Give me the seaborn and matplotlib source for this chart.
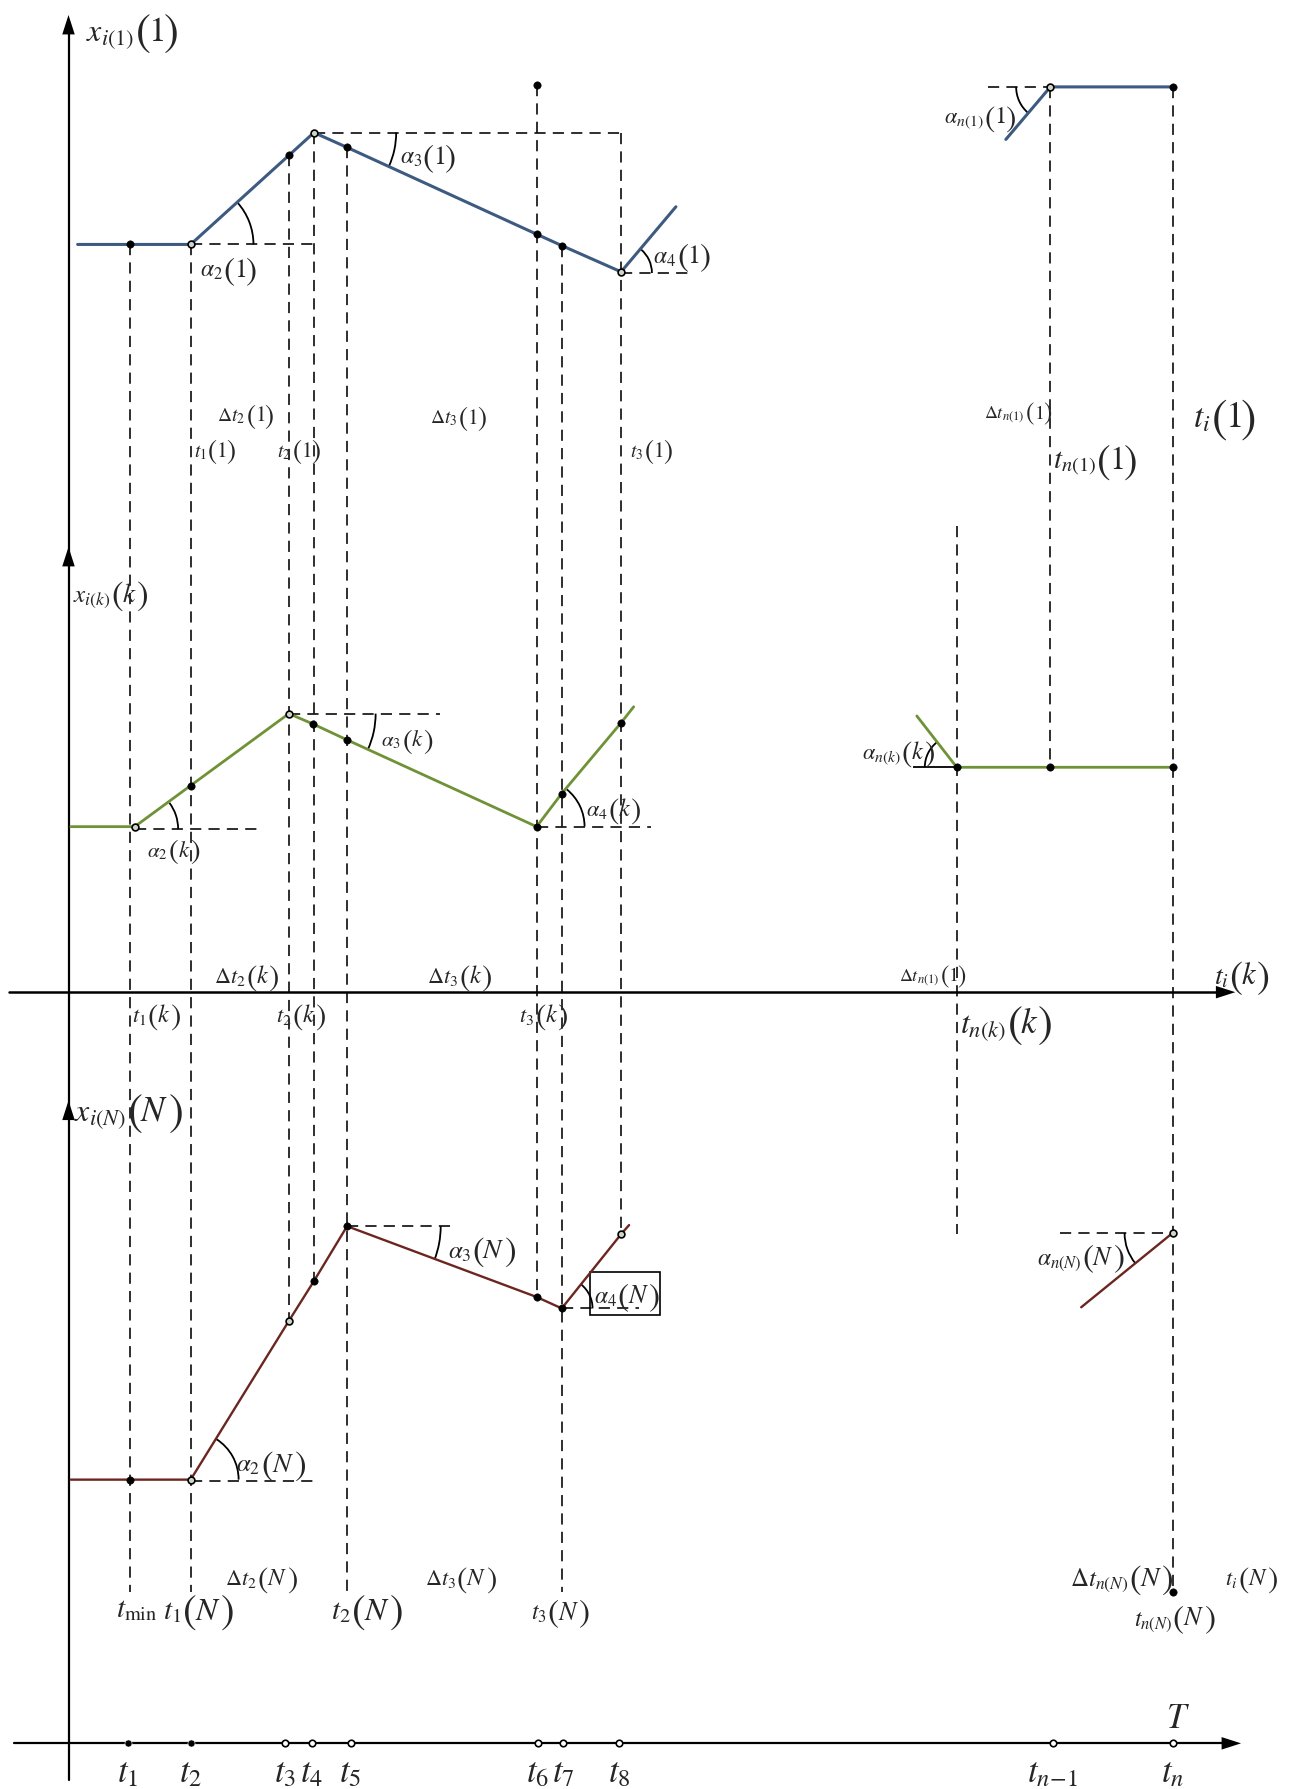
import numpy as np
import pandas as pd
import matplotlib
matplotlib.use("Agg")
import matplotlib.pyplot as plt
from matplotlib.patches import Arc, Rectangle
import seaborn as sns

sns.set_style("white")
plt.rcParams["mathtext.fontset"] = "stix"
plt.rcParams["font.family"] = ["STIXGeneral", "DejaVu Sans"]

# ---- layout of the diagram (drawing units, y grows downward) ----
W, H = 1129, 1568

# trajectory x_i(1) (blue)
x1_t = [68, 114, 167, 253, 275, 304, 470, 492, 544, 592]
x1_v = [215, 215, 215, 137, 117, 130, 206, 216, 239, 182]
x1_tail_t = [881, 920, 1027]
x1_tail_v = [123, 77, 77]
x1_dots = [(114, 215), (253, 137), (304, 130), (470, 206), (492, 216), (1027, 77), (470, 75)]
x1_open = [(167, 215), (275, 117), (544, 239), (920, 77)]

# trajectory x_i(k) (green)
xk_t = [62, 118, 167, 253, 274, 304, 470, 492, 544, 555]
xk_v = [725, 725, 689, 626, 635, 649, 725, 696, 634, 620]
xk_tail_t = [803, 838, 920, 1027]
xk_tail_v = [628, 673, 673, 673]
xk_dots = [(167, 689), (274, 635), (304, 649), (470, 725), (492, 696), (544, 634),
           (838, 673), (920, 673), (1027, 673)]
xk_open = [(118, 725), (253, 626)]

# trajectory x_i(N) (brown)
xN_t = [62, 114, 167, 253, 275, 304, 470, 492, 544, 551]
xN_v = [1297, 1297, 1297, 1158, 1123, 1075, 1137, 1147, 1082, 1074]
xN_tail_t = [947, 1027]
xN_tail_v = [1146, 1081]
xN_dots = [(114, 1297), (275, 1123), (304, 1075), (470, 1137), (492, 1147), (1027, 1395)]
xN_open = [(167, 1297), (253, 1158), (544, 1082), (1027, 1081)]

# global time axis T
T_ticks = [112, 167, 250, 273, 307, 471, 493, 542, 922, 1027]
T_filled = [True, True, False, False, False, False, False, False, False, False]
T_labels = [r"$t_1$", r"$t_2$", r"$t_3$", r"$t_4$", r"$t_5$", r"$t_6$", r"$t_7$",
            r"$t_8$", r"$t_{n\!-\!1}$", r"$t_n$"]

# vertical projection lines: (x, top, bottom)
v_guides = [(114, 215, 1395), (167, 215, 1395), (253, 137, 1158), (275, 117, 1123),
            (304, 130, 1398), (470, 75, 1137), (492, 216, 1395), (544, 117, 1082),
            (838, 462, 1082), (920, 77, 673), (1027, 77, 1395)]
# horizontal reference lines: (y, left, right)
h_guides = [(215, 167, 275), (117, 275, 544), (240, 544, 603), (77, 865, 920),
            (727, 118, 226), (626, 253, 385), (725, 470, 570),
            (1298, 167, 277), (1075, 304, 398), (1147, 492, 560), (1081, 928, 1027)]

# angle arcs: (center, radius, theta1, theta2)
arcs = [((167, 215), 55, -42, 0), ((275, 117), 72, 0, 24.4), ((544, 240), 27, -50, 0),
        ((920, 77), 30, 130, 180),
        ((118, 727), 38, -37, 0), ((253, 626), 76, 0, 24.5), ((470, 725), 42, -51, 0),
        ((838, 673), 28, -180, -128),
        ((167, 1297), 42, -58, 0), ((304, 1075), 82, 0, 21), ((492, 1147), 27, -51, 0),
        ((1027, 1081), 42, 141, 180)]

# text labels: (symbol, argument, left x, centre y, size)
labels = [
    (r"$x_{i(1)}$", "1", 75, 24, 23),
    (r"$\alpha_2$", "1", 175, 234, 17),
    (r"$\alpha_3$", "1", 350, 135, 17),
    (r"$\alpha_4$", "1", 572, 222, 17),
    (r"$\alpha_{n(1)}$", "1", 827, 100, 16),
    (r"$\Delta t_2$", "1", 190, 362, 14),
    (r"$\Delta t_3$", "1", 377, 364, 14),
    (r"$t_1$", "1", 170, 393, 14),
    (r"$t_2$", "1", 243, 393, 14),
    (r"$t_3$", "1", 552, 393, 14),
    (r"$\Delta t_{n(1)}$", "1", 862, 360, 13),
    (r"$t_{n(1)}$", "1", 922, 400, 21),
    (r"$t_i$", "1", 1045, 362, 24),
    (r"$x_{i(k)}$", "k", 64, 518, 18),
    (r"$\alpha_2$", "k", 129, 743, 15),
    (r"$\alpha_3$", "k", 334, 646, 15),
    (r"$\alpha_4$", "k", 513, 707, 16),
    (r"$\alpha_{n(k)}$", "k", 755, 657, 16),
    (r"$\Delta t_2$", "k", 187, 853, 16),
    (r"$\Delta t_3$", "k", 374, 853, 16),
    (r"$t_1$", "k", 116, 887, 16),
    (r"$t_2$", "k", 242, 887, 16),
    (r"$t_3$", "k", 455, 887, 16),
    (r"$\Delta t_{n(1)}$", "1", 787, 853, 13),
    (r"$t_{n(k)}$", "k", 841, 893, 23),
    (r"$t_i$", "k", 1063, 852, 20),
    (r"$x_{i(N)}$", "N", 65, 970, 23),
    (r"$\alpha_2$", "N", 207, 1280, 18),
    (r"$\alpha_3$", "N", 392, 1093, 18),
    (r"$\alpha_4$", "N", 520, 1133, 17),
    (r"$\alpha_{n(N)}$", "N", 908, 1099, 17),
    (r"$\Delta t_2$", "N", 197, 1380, 16),
    (r"$\Delta t_3$", "N", 372, 1380, 16),
    (r"$t_{\rm min}$", None, 102, 1407, 21),
    (r"$t_1$", "N", 143, 1408, 21),
    (r"$t_2$", "N", 290, 1408, 21),
    (r"$t_3$", "N", 465, 1410, 17),
    (r"$\Delta t_{n(N)}$", "N", 937, 1380, 18),
    (r"$t_{n(N)}$", "N", 993, 1415, 17),
    (r"$t_i$", "N", 1073, 1380, 16),
    (r"$T$", None, 1021, 1502, 25),
]

BLUE = "#3d5a80"
GREEN = "#6f9236"
BROWN = "#6b2620"

fig = plt.figure(figsize=(12.89, 17.90), dpi=100)
ax = fig.add_axes([0, 0, 1, 1])
ax.set_xlim(0, W)
ax.set_ylim(H, 0)
ax.set_axis_off()

dash = (0, (7, 4.5))

# projection and reference lines
for x, y0, y1 in v_guides:
    ax.vlines(x, y0, y1, colors="black", linestyles=dash, lw=1.15, zorder=1)
for y, x0, x1 in h_guides:
    ax.hlines(y, x0, x1, colors="black", linestyles=dash, lw=1.15, zorder=1)

# short solid reference under alpha_n(k)
ax.hlines(673, 800, 838, colors="black", lw=1.3, zorder=1)

# axes with arrow heads
ax.plot([60, 60], [1560, 20], color="black", lw=1.6, zorder=2)
ax.plot([8, 1075], [870, 870], color="black", lw=1.8, zorder=2)
ax.plot([12, 1080], [1528, 1528], color="black", lw=1.6, zorder=2)
arrow = dict(arrowstyle="-|>,head_length=1.4,head_width=0.45", color="black", lw=0,
             shrinkA=0, shrinkB=0)
for tip in (14, 480, 965):
    ax.annotate("", xy=(60, tip), xytext=(60, tip + 30), arrowprops=arrow, zorder=3)
ax.annotate("", xy=(1082, 870), xytext=(1052, 870), arrowprops=arrow, zorder=3)
ax.annotate("", xy=(1087, 1528), xytext=(1057, 1528), arrowprops=arrow, zorder=3)


def trajectory(ts, vs, color, lw):
    df = pd.DataFrame({"t": ts, "v": vs})
    sns.lineplot(data=df, x="t", y="v", sort=False, estimator=None, color=color,
                 lw=lw, ax=ax, zorder=4, legend=False)


trajectory(x1_t, x1_v, BLUE, 2.2)
trajectory(x1_tail_t, x1_tail_v, BLUE, 2.2)
trajectory(xk_t, xk_v, GREEN, 2.0)
trajectory(xk_tail_t, xk_tail_v, GREEN, 2.0)
trajectory(xN_t, xN_v, BROWN, 1.7)
trajectory(xN_tail_t, xN_tail_v, BROWN, 1.7)

filled = x1_dots + xk_dots + xN_dots
hollow = x1_open + xk_open + xN_open
sns.scatterplot(x=[p[0] for p in filled], y=[p[1] for p in filled], s=28, color="black",
                edgecolor="black", ax=ax, zorder=5, legend=False)
sns.scatterplot(x=[p[0] for p in hollow], y=[p[1] for p in hollow], s=24, color="#cfd6c8",
                edgecolor="black", linewidth=1.2, ax=ax, zorder=5, legend=False)

# ticks of the global axis
fx = [x for x, f in zip(T_ticks, T_filled) if f]
ox = [x for x, f in zip(T_ticks, T_filled) if not f]
sns.scatterplot(x=fx, y=[1528] * len(fx), s=26, color="black", ax=ax, zorder=5, legend=False)
sns.scatterplot(x=ox, y=[1528] * len(ox), s=22, color="white", edgecolor="black",
                linewidth=1.2, ax=ax, zorder=5, legend=False)
for x, lab in zip(T_ticks, T_labels):
    ax.text(x, 1540, lab, ha="center", va="top", fontsize=25, zorder=6)

# angle marks
for (cx, cy), r, a0, a1 in arcs:
    ax.add_patch(Arc((cx, cy), 2 * r, 2 * r, theta1=a0, theta2=a1, color="black",
                     lw=1.3, zorder=3))

# boxed label
ax.add_patch(Rectangle((517, 1115), 61, 38, fill=False, edgecolor="black", lw=1.2, zorder=3))

# labels: symbol followed by a tall bracketed argument
renderer = fig.canvas.get_renderer()
to_data = ax.transData.inverted()
PT = 100 / 72 * W / 1289.0  # drawing units per point


def chain(x, y, pieces):
    cur = x
    for s, fs, dy, gap in pieces:
        t = ax.text(cur, y + dy, s, fontsize=fs, ha="left", va="baseline", zorder=6)
        bb = t.get_window_extent(renderer=renderer)
        cur = to_data.transform((bb.x1, bb.y0))[0] + gap


for sym, arg, x, y, fs in labels:
    base = y + 0.42 * fs * PT
    if arg is None:
        chain(x, base - 0.05 * fs * PT, [(sym, fs, 0, 0)])
        continue
    inner = "$" + arg + "$" if arg.isalpha() else "$\\mathrm{" + arg + "}$"
    pf = fs * 1.4
    pdy = 0.12 * fs * PT
    chain(x, base, [(sym, fs, 0, 0.5), ("$($", pf, pdy, -0.08 * fs),
                    (inner, fs * 1.1, 0, -0.04 * fs), ("$)$", pf, pdy, 0)])

fig.savefig("out.png", dpi=100, facecolor="white")
